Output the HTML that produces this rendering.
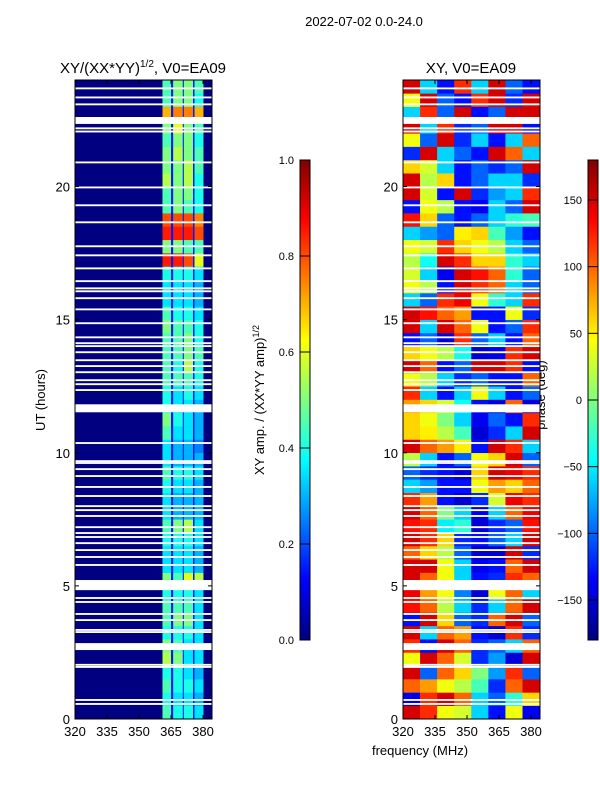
<!DOCTYPE html>
<html><head><meta charset="utf-8">
<style>
html,body{margin:0;padding:0;background:#fff;}
svg{display:block;font-family:"Liberation Sans",sans-serif;}
</style></head>
<body>
<svg id="chart" width="600" height="800" viewBox="0 0 600 800" xmlns="http://www.w3.org/2000/svg">
<rect x="0" y="0" width="600" height="800" fill="#fff"/>
<text x="364" y="26" font-size="13" text-anchor="middle">2022-07-02 0.0-24.0</text>
<text x="143" y="73" font-size="15" text-anchor="middle">XY/(XX*YY)<tspan dy="-6" font-size="10">1/2</tspan><tspan dy="6">, V0=EA09</tspan></text>
<text x="471" y="73" font-size="15" text-anchor="middle">XY, V0=EA09</text>
<text transform="translate(45,400) rotate(-90)" font-size="13" text-anchor="middle">UT (hours)</text>
<text x="420" y="755" font-size="13" text-anchor="middle">frequency (MHz)</text>
<text transform="translate(264,400) rotate(-90)" font-size="13" text-anchor="middle">XY amp. / (XX*YY amp)<tspan dy="-5" font-size="9">1/2</tspan></text>
<text transform="translate(545,395) rotate(-90)" font-size="13" text-anchor="middle">phase (deg)</text>
<defs>
<linearGradient id="jet" x1="0" y1="1" x2="0" y2="0"></linearGradient>
</defs>
<g id="layer"></g>
</svg>
<script>
// ---- data ----
const ampBandFreqs = [[361,365],[366,370.5],[371,375.3],[376,380.2]];
// half-hour rows from 0h upward, 4 band values each
const ampRows = [
[0.45,0.4,0.4,0.35],[0.4,0.35,0.35,0.3],[0.45,0.4,0.4,0.35],[0.4,0.4,0.35,0.3],
[0.55,0.5,0.35,0.35],[0.5,0.45,0.35,0.35],[0.4,0.4,0.4,0.35],[0.45,0.5,0.5,0.35],
[0.45,0.45,0.45,0.35],[0.4,0.4,0.4,0.35],[0.5,0.45,0.6,0.55],[0.35,0.35,0.35,0.3],
[0.35,0.35,0.35,0.3],[0.4,0.4,0.4,0.35],[0.45,0.5,0.55,0.35],[0.35,0.3,0.3,0.3],
[0.35,0.3,0.3,0.3],[0.4,0.35,0.35,0.3],[0.45,0.4,0.4,0.35],[0.35,0.3,0.3,0.3],
[0.35,0.3,0.3,0.25],[0.45,0.35,0.35,0.3],[0.5,0.4,0.35,0.3],[0.4,0.35,0.35,0.3],
[0.4,0.35,0.4,0.35],[0.45,0.45,0.45,0.4],[0.45,0.4,0.55,0.4],[0.45,0.45,0.5,0.45],
[0.45,0.45,0.5,0.4],[0.5,0.45,0.45,0.4],[0.45,0.4,0.4,0.35],[0.35,0.35,0.35,0.3],
[0.35,0.35,0.35,0.3],[0.4,0.4,0.4,0.35],[0.85,0.85,0.8,0.6],[0.5,0.5,0.45,0.45],
[0.85,0.85,0.85,0.8],[0.8,0.8,0.8,0.75],[0.45,0.5,0.45,0.4],[0.45,0.5,0.5,0.4],
[0.55,0.5,0.55,0.4],[0.5,0.5,0.55,0.45],[0.5,0.55,0.5,0.45],[0.45,0.5,0.5,0.4],
[0.5,0.6,0.5,0.45],[0.7,0.75,0.75,0.7],[0.45,0.5,0.5,0.4],[0.45,0.5,0.5,0.45]
];
const ampBackground = 0.0;
const ampBetweenBands = 0.15;
// phase: 8 columns of 8 MHz (320..384), half-hour rows from 0h upward, degrees
const phaseRows = [
[150,120,40,30,-60,-130,40,-140],[-140,120,150,100,-60,-100,-30,60],
[100,80,40,20,-20,-120,100,150],[150,-100,100,60,0,-80,120,-100],
[40,150,100,30,-120,-80,-150,150],[120,-130,150,100,-120,-100,-60,100],
[150,-60,100,80,-130,-150,120,-120],[-130,150,60,-100,-120,100,150,-100],
[130,100,20,-60,-120,-60,100,150],[140,80,40,-90,-150,40,100,-60],
[150,100,40,-60,-130,-120,120,100],[150,150,40,-60,-140,-130,100,150],
[100,60,20,-100,-150,-150,150,-120],[150,120,60,-120,-130,-100,-60,150],
[130,120,-50,-30,-150,-120,-100,130],[150,100,0,-60,-140,-60,100,140],
[120,80,-130,-150,-120,30,140,120],[-60,-80,-130,-130,40,80,60,100],
[-100,-120,-130,-150,60,150,140,120],[20,-60,-130,-100,40,60,150,-100],
[150,100,80,50,-130,150,120,-60],[60,50,20,-20,-150,-120,-60,150],
[60,40,0,-60,-140,-100,-130,120],[80,60,30,-40,-130,-150,100,-150],
[120,-60,-130,-60,40,-60,-130,-100],[40,20,-60,-120,-100,-130,-130,100],
[150,100,-130,-100,150,150,120,-130],[60,40,20,-40,-150,-140,120,150],
[-130,-100,-150,120,-100,-60,-130,100],[150,-60,150,100,40,-130,-100,120],
[150,130,100,80,-130,-130,40,-120],[-60,-100,120,140,40,-30,-60,120],
[40,20,-130,150,120,100,-60,-100],[30,-60,-140,150,130,100,-30,-100],
[20,-40,150,120,60,60,-30,-60],[40,30,120,60,40,20,-60,-100],
[-60,-80,-100,50,60,-20,-80,-130],[130,60,-100,-130,-100,-60,-30,-20],
[-130,40,20,-130,-140,-60,-100,150],[150,30,-130,150,-120,-80,-60,120],
[150,20,60,-130,-100,-60,-60,-120],[60,30,-60,-130,-100,-120,-100,150],
[-120,150,-60,-100,-130,150,100,-60],[40,-100,150,-120,-60,-130,-60,100],
[150,-60,120,-120,-100,150,150,-130],[-60,120,-100,150,-130,-100,150,150],
[40,150,-100,-130,120,150,-120,150],[150,-60,-130,120,-60,150,-100,-130]
];
const phaseColFreqs = [320,328,336,344,352,360,368,376,384];
// flagged times: [start hour, duration hours]
const flagTimes = [
[23.65,0.07],[23.31,0.07],[23.05,0.07],[22.35,0.26],[22.15,0.07],[22.03,0.07],[20.87,0.07],
[19.93,0.07],[19.26,0.07],[18.62,0.07],[17.72,0.07],[17.38,0.07],[16.89,0.07],[16.41,0.07],
[16.14,0.07],[16.03,0.07],[15.77,0.07],[15.35,0.07],[14.83,0.07],[14.30,0.07],[14.08,0.07],
[13.97,0.07],[13.74,0.07],[13.44,0.07],[13.22,0.07],[12.99,0.07],[12.69,0.07],[12.54,0.07],
[12.32,0.07],[11.52,0.30],[10.33,0.07],[9.65,0.07],[9.58,0.07],[9.35,0.07],[9.09,0.07],
[8.68,0.07],[8.34,0.07],[7.96,0.07],[7.81,0.07],[7.59,0.07],[7.17,0.07],[6.95,0.07],
[6.80,0.07],[6.57,0.07],[6.31,0.07],[6.05,0.07],[5.75,0.07],[4.84,0.38],[4.51,0.07],
[4.36,0.07],[3.91,0.07],[3.68,0.07],[3.31,0.07],[3.23,0.07],[2.59,0.26],[2.00,0.07],
[1.92,0.07],[0.68,0.07],[0.53,0.07]
];
const xTicks = [320,335,350,365,380];
const yTicks = [0,5,10,15,20];
const ampTicks = [0.0,0.2,0.4,0.6,0.8,1.0];
const phaseTicks = [-150,-100,-50,0,50,100,150];

// ---- layout ----
const NS = "http://www.w3.org/2000/svg";
const layer = document.getElementById('layer');
const panels = [{x0:75,x1:212,name:'amp'},{x0:403,x1:540,name:'phase'}];
const yTop = 80, yBot = 719, fMin = 320, fMax = 384.2, tMax = 24;
function yScale(h){ return yBot - (h/tMax)*(yBot-yTop); }
function xScale(p,f){ return p.x0 + (f-fMin)/(fMax-fMin)*(p.x1-p.x0); }
function jet(v){
  v = Math.max(0,Math.min(1,v));
  const c = t => Math.round(255*Math.max(0,Math.min(1,t)));
  const r = c(Math.min(4*v-1.5,-4*v+4.5));
  const g = c(Math.min(4*v-0.5,-4*v+3.5));
  const b = c(Math.min(4*v+0.5,-4*v+2.5));
  return `rgb(${r},${g},${b})`;
}
function mk(tag, attrs, parent){
  const e = document.createElementNS(NS, tag);
  for (const k in attrs) e.setAttribute(k, attrs[k]);
  (parent||layer).appendChild(e);
  return e;
}
// gradient from jet
const grad = document.getElementById('jet');
for (let i=0;i<=40;i++){
  const s = document.createElementNS(NS,'stop');
  s.setAttribute('offset', i/40);
  s.setAttribute('stop-color', jet(i/40));
  grad.appendChild(s);
}

// amplitude heatmap
const pA = panels[0];
const gA = mk('g',{});


mk('rect',{x:pA.x0,y:yTop,width:pA.x1-pA.x0,height:yBot-yTop,fill:jet(ampBackground)},gA);
const bandSpanX0 = xScale(pA,ampBandFreqs[0][0]);
const bandSpanX1 = xScale(pA,ampBandFreqs[3][1]);
mk('rect',{x:bandSpanX0,y:yTop,width:bandSpanX1-bandSpanX0,height:yBot-yTop,fill:jet(ampBetweenBands)},gA);
ampRows.forEach((row,i)=>{
  const y0 = yScale((i+1)*0.5), y1 = yScale(i*0.5);
  row.forEach((v,j)=>{
    const xa = xScale(pA,ampBandFreqs[j][0]), xb = xScale(pA,ampBandFreqs[j][1]);
    const r = mk('rect',{x:xa,y:y0,width:xb-xa,height:y1-y0+0.3,fill:jet(v)},gA);
    
    
  });
});

// phase heatmap
const pP = panels[1];
const gP = mk('g',{});


phaseRows.forEach((row,i)=>{
  const y0 = yScale((i+1)*0.5), y1 = yScale(i*0.5);
  row.forEach((v,j)=>{
    const xa = xScale(pP,phaseColFreqs[j]), xb = Math.min(pP.x1, xScale(pP,phaseColFreqs[j+1]));
    const r = mk('rect',{x:xa,y:y0,width:xb-xa+0.3,height:y1-y0+0.3,fill:jet((v+180)/360)},gP);
    
    
  });
});

// flags + axes
panels.forEach(p=>{
  flagTimes.forEach(f=>{
    const ya = yScale(f[0]+f[1]), yb = yScale(f[0]);
    const r = mk('rect',{x:p.x0,y:ya,width:p.x1-p.x0,height:Math.max(1.5,yb-ya),fill:'#fff'});
    
    
  });
  const fr = mk('rect',{x:p.x0,y:yTop,width:p.x1-p.x0,height:yBot-yTop,fill:'none',stroke:'#000','stroke-width':1});
  
  
  xTicks.forEach(t=>{
    const x = xScale(p,t);
    mk('line',{x1:x,x2:x,y1:yBot,y2:yBot-4,stroke:'#000'});
    mk('line',{x1:x,x2:x,y1:yTop,y2:yTop+4,stroke:'#000'});
    const tx = mk('text',{x:x,y:yBot+17,'font-size':13,'text-anchor':'middle'});
    tx.textContent = t;
    
    
  });
  yTicks.forEach(t=>{
    const y = yScale(t);
    mk('line',{x1:p.x0,x2:p.x0+4,y1:y,y2:y,stroke:'#000'});
    mk('line',{x1:p.x1,x2:p.x1-4,y1:y,y2:y,stroke:'#000'});
    const tx = mk('text',{x:p.x0-5,y:y+5,'font-size':13,'text-anchor':'end'});
    tx.textContent = t;
    
    
  });
});

// colorbars
function colorbar(x, vals, vmin, vmax, name){
  const cy0 = 160, cy1 = 640, w = 10;
  const r = mk('rect',{x:x,y:cy0,width:w,height:cy1-cy0,fill:'url(#jet)',stroke:'#000','stroke-width':1});
  
  
  vals.forEach(v=>{
    const y = cy1 - (v-vmin)/(vmax-vmin)*(cy1-cy0);
    mk('line',{x1:x,x2:x+w,y1:y,y2:y,stroke:'#000','stroke-width':1});
    const tx = mk('text',{x:x-6,y:y+4,'font-size':11,'text-anchor':'end'});
    tx.textContent = (vmax<=1) ? v.toFixed(1) : (v<0 ? '\u2212'+Math.abs(v) : String(v));
    
    
  });
}
colorbar(300, ampTicks, 0, 1, 'amp-colorbar');
colorbar(588, phaseTicks, -180, 180, 'phase-colorbar');
</script>
</body></html>
